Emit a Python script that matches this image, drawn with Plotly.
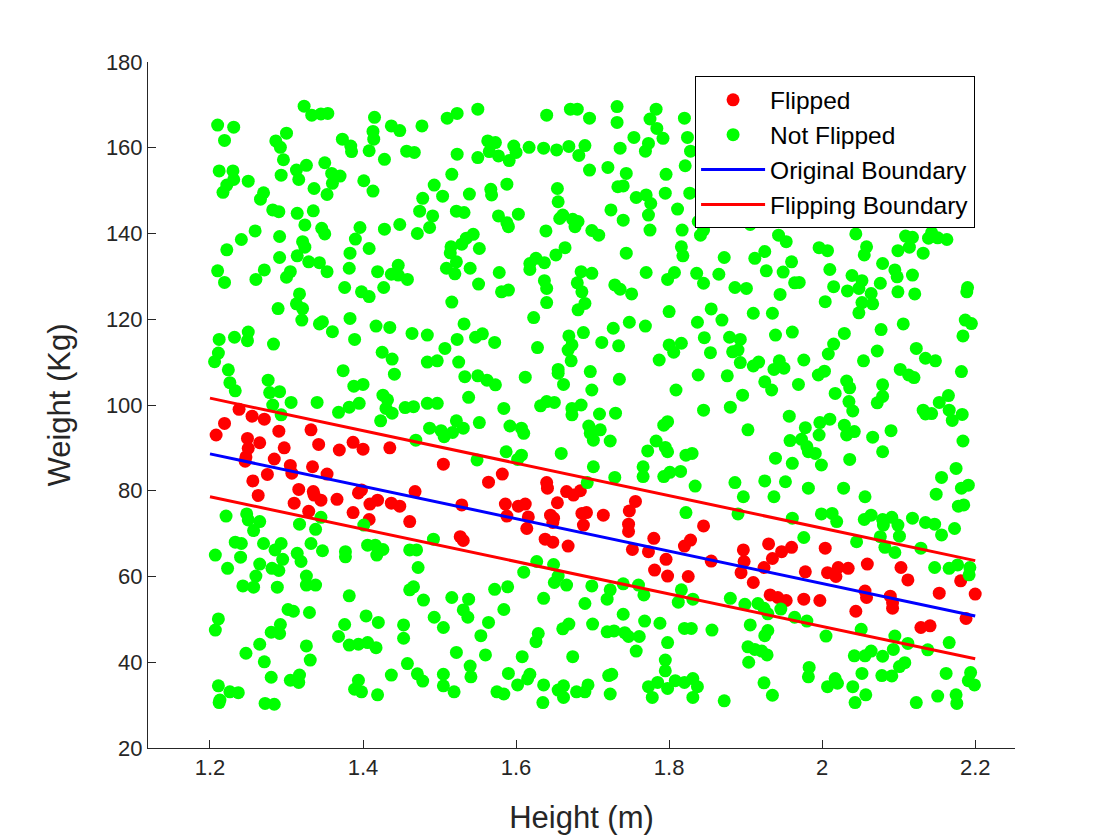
import plotly.graph_objects as go

# ---------------- data ----------------
flipped_height = [
    1.238, 1.255, 1.271, 1.219, 1.208, 1.249, 1.265, 1.250, 1.247, 1.246,
    1.290, 1.332, 1.342, 1.297, 1.284, 1.305, 1.307, 1.334, 1.353, 1.275,
    1.256, 1.263, 1.369, 1.387, 1.400, 1.435, 1.316, 1.335, 1.336, 1.345,
    1.366, 1.394, 1.398, 1.310, 1.409, 1.419, 1.437,
    1.329, 1.387, 1.408,
    1.505, 1.582, 1.564, 1.640, 1.641, 1.468, 1.666, 1.675, 1.684, 1.529,
    1.586, 1.603, 1.612, 1.654, 1.448,
    1.461, 1.527, 1.531, 1.588, 1.616, 1.614, 1.645, 1.649, 1.648, 1.638,
    1.648, 1.668, 1.686, 1.692, 1.688,
    1.756, 1.748, 1.714, 1.747, 1.747, 1.845, 1.780, 1.752, 1.773, 1.796,
    1.781, 1.798, 1.825, 1.820, 1.828, 1.855, 1.897, 1.898, 1.894, 1.910,
    1.930, 1.947, 1.960, 1.935, 1.924, 1.932, 1.942, 1.953,
    2.004, 1.978, 2.007, 2.018, 2.021, 2.034, 2.059, 2.103, 2.112, 1.976,
    1.997, 2.056, 2.058, 2.044, 2.089, 2.092, 2.092, 2.153, 2.181, 2.200,
    2.188, 2.129, 2.141,
]
flipped_weight = [
    99.0, 97.4, 96.7, 95.7, 93.0, 92.2, 91.2, 89.9, 87.9, 86.9,
    93.9, 94.2, 90.8, 90.0, 87.4, 85.9, 84.1, 85.6, 83.9, 83.8,
    82.3, 78.9, 89.5, 91.3, 89.7, 90.0, 80.3, 79.8, 79.0, 77.8,
    78.0, 79.5, 80.2, 77.1, 76.9, 77.8, 77.1,
    75.2, 74.9, 73.3,
    86.2, 83.9, 82.0, 81.9, 80.6, 79.8, 79.8, 79.0, 80.0, 76.7,
    76.9, 76.4, 76.9, 77.2, 76.4,
    72.8, 69.3, 68.4, 74.1, 73.9, 71.2, 74.3, 73.6, 72.6, 68.7,
    68.0, 67.1, 74.7, 74.9, 72.0,
    77.5, 75.3, 74.3, 72.2, 70.5, 71.8, 68.9, 66.3, 65.8, 64.0,
    61.5, 60.1, 60.0, 67.1, 68.5, 63.6, 66.2, 63.5, 60.9, 58.6,
    67.6, 65.8, 66.8, 64.2, 62.1, 55.7, 55.1, 54.4,
    66.6, 61.1, 60.9, 60.0, 62.1, 61.9, 62.9, 62.1, 59.2, 54.7,
    54.4, 56.6, 55.1, 51.9, 55.4, 53.9, 52.6, 56.1, 59.0, 55.9,
    50.2, 48.1, 48.5,
]

not_flipped_height = [
    # upper band
    1.210, 1.231, 1.219, 1.323, 1.333, 1.345, 1.354, 1.415, 1.437, 1.300,
    1.286, 1.292, 1.373, 1.384, 1.385, 1.413, 1.414, 1.408, 1.428, 1.296,
    1.212, 1.230, 1.231, 1.222, 1.217, 1.250, 1.293, 1.313, 1.326, 1.316,
    1.350, 1.359, 1.370, 1.360, 1.336, 1.353, 1.401, 1.413, 1.270, 1.266,
    1.282, 1.290, 1.314, 1.335, 1.324, 1.346, 1.350, 1.259, 1.241, 1.222,
    1.291, 1.321, 1.324, 1.314, 1.291, 1.329, 1.343, 1.353, 1.396, 1.390,
    1.428, 1.408, 1.383, 1.382, 1.419, 1.437, 1.210, 1.219, 1.271, 1.260,
    1.305, 1.300, 1.317, 1.376, 1.398, 1.408, 1.427,
    1.448, 1.477, 1.510, 1.523, 1.550, 1.640, 1.671, 1.680, 1.696, 1.457,
    1.467, 1.523, 1.550, 1.563, 1.573, 1.565, 1.577, 1.597, 1.600, 1.591,
    1.617, 1.636, 1.653, 1.669, 1.690, 1.682, 1.696, 1.516, 1.493, 1.478,
    1.504, 1.539, 1.567, 1.568, 1.588, 1.654, 1.655, 1.474, 1.491, 1.522,
    1.532, 1.448, 1.471, 1.487, 1.577, 1.588, 1.590, 1.603, 1.657, 1.661,
    1.674, 1.681, 1.677, 1.699, 1.639, 1.544, 1.535, 1.529, 1.515, 1.514,
    1.552, 1.522, 1.509, 1.520, 1.540, 1.446, 1.446, 1.458, 1.578, 1.551,
    1.581, 1.590, 1.664, 1.652, 1.626, 1.618, 1.637, 1.618, 1.637, 1.640,
    1.685, 1.699, 1.680, 1.686,
    1.732, 1.732, 1.783, 1.775, 1.784, 1.792, 1.754, 1.736, 1.773, 1.769,
    1.820, 1.824, 1.828, 1.821, 1.720, 1.744, 1.796, 1.733, 1.740, 1.757,
    1.770, 1.776, 1.795, 1.827, 1.724, 1.740, 1.773, 1.811, 1.775, 1.817,
    1.838, 1.845, 1.841, 1.873, 1.906, 1.939, 1.943, 1.953, 1.708, 1.744,
    1.816, 1.818, 1.872, 1.912, 1.925, 1.960, 1.770, 1.807, 1.798, 1.836,
    1.845, 1.865, 1.927, 1.949, 1.964, 1.729, 1.736, 1.751, 1.886, 1.901,
    1.945,
    2.044, 1.996, 2.007, 2.058, 2.055, 2.109, 2.118, 2.114, 2.099, 2.132,
    2.143, 2.139, 2.151, 2.163, 2.010, 2.079, 2.095, 2.098, 2.118, 1.970,
    2.039, 2.052, 2.048, 2.033, 2.015, 2.076, 2.064, 2.099, 2.121, 2.190,
    2.189,
    # middle band
    1.289, 1.313, 1.321, 1.320, 1.343, 1.347, 1.360, 1.383, 1.389, 1.417,
    1.435, 1.212, 1.232, 1.250, 1.249, 1.283, 1.211, 1.206, 1.224, 1.226,
    1.233, 1.276, 1.278, 1.291, 1.282, 1.293, 1.306, 1.340, 1.374, 1.388,
    1.400, 1.395, 1.382, 1.368, 1.425, 1.438, 1.441, 1.426, 1.432, 1.430,
    1.438, 1.423,
    1.516, 1.640, 1.681, 1.690, 1.623, 1.532, 1.464, 1.484, 1.507, 1.523,
    1.547, 1.556, 1.572, 1.628, 1.669, 1.688, 1.673, 1.668, 1.672, 1.484,
    1.497, 1.525, 1.533, 1.550, 1.562, 1.573, 1.612, 1.655, 1.655, 1.662,
    1.697, 1.699, 1.538, 1.584, 1.484, 1.497, 1.466, 1.455, 1.632, 1.640,
    1.650, 1.673, 1.685, 1.673, 1.487, 1.502, 1.506, 1.517, 1.522, 1.531,
    1.552, 1.592, 1.607, 1.610, 1.695, 1.697, 1.701, 1.469, 1.549, 1.587,
    1.607, 1.602, 1.659, 1.701, 1.693,
    1.800, 1.855, 1.869, 1.910, 1.935, 1.748, 1.769, 1.727, 1.837, 1.939,
    1.961, 1.712, 1.734, 1.800, 1.816, 1.806, 1.846, 1.854, 1.879, 1.893,
    1.883, 1.890, 1.787, 1.893, 1.910, 1.917, 1.937, 1.944, 1.950, 1.838,
    1.876, 1.925, 1.934, 1.735, 1.809, 1.896, 1.880, 1.845, 1.730, 1.709,
    1.957, 1.903, 1.793, 1.798, 1.710, 1.723, 1.783, 1.795, 1.798, 1.772,
    1.958, 1.822, 1.830, 1.939, 1.961, 1.766, 1.766, 1.729, 1.793, 1.801,
    1.815, 1.834, 1.886, 1.925, 1.952, 1.897, 1.937,
    2.004, 2.052, 2.066, 2.048, 2.106, 2.077, 2.029, 2.187, 2.195, 2.184,
    2.015, 2.008, 1.976, 2.054, 2.072, 2.123, 2.135, 2.148, 1.995, 2.003,
    2.102, 2.113, 2.120, 2.182, 1.969, 2.032, 2.036, 2.017, 2.079, 2.079,
    2.072, 2.035, 2.040, 2.132, 2.135, 2.143, 2.153, 2.165, 2.166, 2.170,
    2.183, 2.010, 1.997, 1.978, 1.996, 2.029, 2.032, 2.042, 2.066, 2.090,
    1.973, 1.980, 1.982, 1.991, 2.079, 2.184, 1.999, 2.036, 2.175, 2.156,
    1.982, 2.028, 2.056, 2.149, 2.182, 2.191, 2.178, 2.185,
    # lower band
    1.221, 1.248, 1.250, 1.265, 1.257, 1.317, 1.338, 1.345, 1.401, 1.233,
    1.241, 1.270, 1.293, 1.285, 1.295, 1.332, 1.347, 1.314, 1.319, 1.377,
    1.377, 1.406, 1.416, 1.426, 1.418, 1.207, 1.240, 1.223, 1.265, 1.281,
    1.290, 1.260, 1.326, 1.243, 1.257, 1.288, 1.326, 1.338, 1.382, 1.302,
    1.309, 1.330, 1.211, 1.207, 1.292, 1.280, 1.291, 1.376, 1.404, 1.420,
    1.368, 1.382, 1.394, 1.406, 1.417, 1.265, 1.247, 1.271, 1.326, 1.331,
    1.280, 1.305, 1.317, 1.316, 1.394, 1.389, 1.398, 1.419, 1.437, 1.211,
    1.226, 1.237, 1.213, 1.212, 1.272, 1.284,
    1.492, 1.461, 1.470, 1.472, 1.461, 1.466, 1.479, 1.516, 1.538, 1.531,
    1.537, 1.572, 1.589, 1.584, 1.610, 1.627, 1.649, 1.655, 1.650, 1.666,
    1.636, 1.699, 1.690, 1.700, 1.493, 1.505, 1.453, 1.453, 1.564, 1.554,
    1.629, 1.626, 1.661, 1.669, 1.522, 1.560, 1.608, 1.674, 1.458, 1.471,
    1.478, 1.505, 1.505, 1.519, 1.540, 1.541, 1.590, 1.602, 1.618, 1.615,
    1.636, 1.635, 1.575, 1.584, 1.655, 1.662, 1.662, 1.679, 1.694, 1.690,
    1.822, 1.890, 1.961, 1.723, 1.719, 1.740, 1.760, 1.767, 1.816, 1.812,
    1.831, 1.880, 1.899, 1.916, 1.924, 1.929, 1.946, 1.964, 1.740, 1.768,
    1.788, 1.719, 1.728, 1.742, 1.747, 1.761, 1.757, 1.798, 1.820, 1.829,
    1.856, 1.906, 1.929, 1.925, 1.903, 1.912, 1.921, 1.928, 1.904, 1.795,
    1.795, 1.721, 1.725, 1.723, 1.773, 1.785, 1.778, 1.798, 1.808, 1.820,
    1.831, 1.837, 1.831, 1.872, 1.924, 1.935,
    1.999, 2.013, 2.019, 2.055, 2.064, 2.079, 2.080, 2.091, 2.099, 2.118,
    2.135, 2.147, 2.173, 2.156, 2.101, 2.076, 2.082, 2.095, 2.045, 1.976,
    2.129, 2.147, 2.166, 2.177, 2.193, 2.192, 1.980, 2.005, 2.051, 2.095,
    2.112, 2.093, 2.138, 2.166, 2.064, 2.056, 2.042, 2.079, 2.108, 2.101,
    1.983, 1.982, 2.017, 2.020, 2.007, 2.052, 2.078, 2.091, 2.040, 2.057,
    2.043, 2.123, 2.151, 2.162, 2.194, 2.191, 2.199, 2.175, 2.176,
]
not_flipped_weight = [
    165.3, 164.8, 161.7, 169.7, 167.6, 167.9, 168.0, 167.1, 165.1, 163.4,
    161.6, 160.1, 162.0, 160.4, 159.1, 163.8, 162.0, 159.3, 157.3, 157.2,
    154.6, 154.6, 152.6, 151.3, 149.6, 152.2, 153.6, 154.8, 155.9, 152.6,
    156.5, 154.0, 153.4, 151.7, 150.5, 149.1, 152.3, 149.9, 149.5, 148.0,
    145.5, 145.1, 144.7, 145.3, 142.0, 141.2, 139.9, 140.6, 138.6, 136.2,
    139.3, 138.1, 136.8, 134.8, 134.4, 133.4, 133.2, 131.1, 141.4, 138.7,
    141.0, 136.5, 135.4, 131.9, 131.1, 130.5, 131.3, 128.6, 131.5, 129.3,
    131.1, 129.8, 125.9, 127.4, 126.4, 125.3, 127.4,
    164.0, 165.1, 166.9, 168.0, 169.0, 167.6, 169.0, 169.0, 166.9, 159.2,
    158.9, 158.5, 157.7, 161.6, 161.2, 159.1, 158.1, 160.4, 158.9, 157.0,
    160.1, 159.9, 159.5, 160.3, 160.5, 158.2, 154.8, 153.8, 151.3, 148.2,
    148.7, 149.2, 150.3, 149.0, 151.5, 150.5, 147.4, 145.2, 144.1, 145.2,
    144.9, 142.1, 140.0, 141.4, 144.1, 142.5, 141.6, 144.5, 143.5, 144.3,
    143.3, 142.8, 141.6, 140.7, 140.6, 139.8, 138.9, 137.5, 136.9, 135.5,
    136.5, 133.4, 131.9, 130.6, 131.9, 132.6, 130.3, 129.3, 130.9, 128.2,
    126.4, 126.8, 136.7, 135.0, 134.2, 133.0, 133.2, 131.6, 129.0, 127.2,
    131.1, 130.7, 128.5, 126.4,
    169.6, 165.9, 169.0, 166.7, 164.5, 162.2, 162.4, 159.9, 161.0, 159.2,
    166.9, 162.4, 159.2, 155.8, 155.4, 154.0, 153.8, 150.9, 151.1, 148.4,
    149.0, 147.0, 149.4, 149.4, 145.5, 143.1, 144.3, 145.7, 140.8, 140.8,
    142.8, 140.8, 139.6, 143.5, 142.1, 143.3, 139.6, 138.1, 139.6, 135.4,
    136.9, 134.8, 134.4, 134.2, 135.8, 133.4, 130.9, 130.9, 129.3, 130.7,
    128.4, 130.5, 131.3, 131.0, 128.5, 128.0, 127.0, 125.9, 127.4, 127.2,
    125.8,
    139.9, 136.7, 136.0, 136.9, 135.0, 139.4, 139.1, 136.8, 136.0, 135.4,
    140.2, 138.9, 139.0, 138.6, 131.6, 133.0, 131.5, 129.9, 130.3, 128.6,
    130.2, 129.0, 127.2, 126.6, 127.6, 128.4, 126.0, 126.4, 125.9, 127.4,
    126.4,
    122.5, 123.6, 122.5, 119.8, 118.9, 119.4, 117.1, 120.2, 115.3, 118.4,
    118.1, 115.3, 115.8, 117.0, 115.0, 114.2, 112.1, 110.1, 108.2, 105.2,
    103.3, 105.8, 102.9, 103.1, 100.0, 97.7, 100.6, 100.6, 108.0, 104.4,
    104.8, 100.4, 99.5, 98.3, 112.3, 110.7, 107.2, 102.3, 101.2, 99.2,
    98.1, 96.3,
    124.0, 123.9, 122.2, 123.7, 120.4, 118.9, 116.7, 116.3, 113.2, 115.3,
    115.8, 116.6, 114.6, 113.4, 116.1, 116.9, 114.0, 112.8, 110.3, 110.0,
    110.3, 110.0, 106.6, 106.8, 105.8, 104.7, 106.5, 108.3, 107.4, 104.8,
    107.8, 103.5, 101.8, 99.2, 100.4, 100.4, 99.6, 99.4, 99.8, 100.8,
    100.6, 99.2, 100.0, 97.7, 94.6, 94.0, 92.6, 93.6, 96.3, 94.6,
    95.9, 95.1, 94.6, 93.4, 95.1, 93.4, 91.8, 91.8, 87.2, 89.1,
    88.3, 87.3, 88.7, 85.6, 81.9,
    121.8, 122.4, 119.8, 121.4, 121.4, 119.3, 118.4, 117.9, 119.3, 116.3,
    117.0, 114.6, 113.8, 114.0, 114.4, 112.3, 115.7, 112.2, 115.8, 115.3,
    112.4, 112.8, 110.5, 109.9, 109.1, 110.0, 108.3, 110.3, 108.6, 107.0,
    106.8, 105.4, 103.5, 106.0, 103.5, 102.3, 99.5, 98.8, 98.1, 97.9,
    97.4, 94.2, 95.3, 96.1, 94.2, 91.6, 91.6, 90.1, 89.1, 89.3,
    91.7, 88.3, 88.7, 87.6, 86.4, 85.6, 83.3, 83.1, 83.3, 84.3,
    84.5, 81.1, 81.9, 82.3, 82.1, 78.6, 78.6,
    124.1, 123.9, 123.6, 121.5, 118.9, 117.6, 116.7, 119.8, 119.0, 116.1,
    114.2, 111.9, 110.5, 110.3, 112.6, 113.2, 110.9, 110.3, 107.0, 107.9,
    108.3, 107.0, 106.4, 107.8, 104.8, 105.6, 104.0, 102.7, 104.7, 102.0,
    100.5, 100.8, 98.6, 98.8, 97.9, 98.0, 100.6, 102.2, 98.8, 96.4,
    97.8, 96.7, 95.9, 94.7, 93.0, 95.3, 93.0, 93.8, 92.5, 94.0,
    92.0, 90.3, 89.1, 88.7, 89.1, 91.6, 86.0, 87.3, 85.2, 83.1,
    80.6, 80.6, 78.6, 79.2, 80.6, 81.3, 76.4, 76.7,
    74.1, 74.6, 73.2, 72.8, 70.7, 72.2, 71.0, 73.8, 72.0, 68.0,
    67.7, 67.7, 67.7, 66.2, 64.0, 67.7, 66.0, 65.4, 63.5, 65.8,
    64.6, 67.3, 67.3, 66.3, 65.0, 65.0, 64.5, 61.9, 62.9, 61.9,
    61.4, 60.1, 60.1, 57.8, 57.5, 57.5, 58.0, 58.0, 55.5, 52.3,
    51.9, 51.6, 50.1, 47.5, 48.8, 47.0, 46.7, 48.8, 50.8, 49.3,
    46.0, 44.0, 44.2, 44.6, 43.4, 44.2, 42.1, 40.1, 43.8, 40.5,
    36.5, 35.8, 37.0, 35.3, 35.8, 33.7, 33.1, 32.4, 37.0, 34.5,
    33.1, 32.9, 31.2, 30.6, 30.4, 30.2,
    68.7, 66.2, 66.2, 62.1, 56.9, 57.6, 54.5, 55.1, 54.7, 52.2,
    50.5, 57.0, 57.6, 52.3, 61.0, 63.5, 62.8, 60.1, 58.6, 58.0,
    54.9, 57.8, 53.7, 48.9, 50.5, 48.1, 48.7, 45.6, 49.3, 46.2,
    46.7, 44.8, 47.8, 48.9, 42.3, 41.7, 41.3, 41.3, 39.7, 37.3,
    35.6, 37.2, 34.5, 33.1, 39.1, 36.6, 37.4, 34.7, 37.2, 36.1,
    34.7, 30.6, 33.1, 32.6, 33.5, 34.5, 31.8, 33.1, 34.7, 33.1,
    74.9, 74.6, 73.6, 56.9, 54.7, 58.3, 58.0, 55.7, 56.9, 54.0,
    54.7, 54.9, 53.5, 53.7, 52.6, 51.3, 52.4, 50.5, 51.2, 49.6,
    49.1, 47.1, 47.3, 46.9, 46.0, 46.0, 42.6, 44.6, 47.9, 47.9,
    47.5, 48.7, 47.4, 46.2, 43.6, 43.0, 42.6, 41.7, 40.0, 40.5,
    38.0, 36.9, 37.2, 32.6, 34.3, 35.3, 31.8, 33.9, 35.7, 35.3,
    36.2, 34.3, 31.8, 31.0, 35.2, 32.3,
    74.6, 74.7, 72.8, 73.3, 74.3, 73.3, 72.0, 73.8, 72.0, 73.6,
    72.6, 72.2, 71.2, 69.7, 69.4, 69.3, 66.8, 65.6, 68.1, 69.1,
    66.6, 62.1, 61.9, 62.7, 62.1, 60.4, 49.6, 46.1, 47.7, 46.1,
    44.4, 43.0, 42.9, 44.6, 42.6, 41.5, 41.5, 41.4, 39.9, 39.0,
    38.8, 36.6, 36.2, 35.1, 34.3, 37.4, 36.9, 36.8, 34.3, 32.4,
    30.6, 30.6, 32.1, 37.4, 37.6, 35.7, 34.7, 32.4, 30.4,
]

boundary_height = [1.2, 2.2]
original_boundary = [88.6, 50.8]
flip_upper = [101.6, 63.7]
flip_lower = [78.6, 40.8]

x_ticks = [1.2, 1.4, 1.6, 1.8, 2.0, 2.2]
x_tick_text = ["1.2", "1.4", "1.6", "1.8", "2", "2.2"]
y_ticks = [20, 40, 60, 80, 100, 120, 140, 160, 180]

# ---------------- figure ----------------
FONT = "Liberation Sans, Helvetica, Arial, sans-serif"
AX = "#262626"

fig = go.Figure()
fig.add_trace(go.Scatter(
    x=flipped_height, y=flipped_weight, mode="markers", name="Flipped",
    marker=dict(color="#ff0000", size=13, line=dict(width=0)),
))
fig.add_trace(go.Scatter(
    x=not_flipped_height, y=not_flipped_weight, mode="markers", name="Not Flipped",
    marker=dict(color="#00ff00", size=13, line=dict(width=0)),
))
fig.add_trace(go.Scatter(
    x=boundary_height, y=original_boundary, mode="lines", name="Original Boundary",
    line=dict(color="#0000ff", width=3),
))
fig.add_trace(go.Scatter(
    x=boundary_height, y=flip_upper, mode="lines", name="Flipping Boundary",
    line=dict(color="#ff0000", width=3), legendgroup="flip",
))
fig.add_trace(go.Scatter(
    x=boundary_height, y=flip_lower, mode="lines", name="Flipping Boundary",
    line=dict(color="#ff0000", width=3), legendgroup="flip", showlegend=False,
))

fig.update_layout(
    width=1120, height=840,
    margin=dict(l=140, r=113, t=54, b=100),
    paper_bgcolor="white", plot_bgcolor="white",
    font=dict(family=FONT, color=AX),
    showlegend=True,
    legend=dict(
        x=0.631, y=0.979, xanchor="left", yanchor="top",
        bgcolor="white", bordercolor="black", borderwidth=1,
        font=dict(family=FONT, size=24.5, color="black"),
        tracegroupgap=0, itemwidth=64,
    ),
    xaxis=dict(
        range=[1.119, 2.252], tickvals=x_ticks, ticktext=x_tick_text,
        showgrid=False, zeroline=False, showline=True, linecolor=AX, linewidth=1,
        ticks="inside", ticklen=8, tickcolor=AX, tickwidth=1,
        tickfont=dict(family=FONT, size=22, color=AX),
        title=dict(text="Height (m)", font=dict(family=FONT, size=31, color=AX), standoff=26),
    ),
    yaxis=dict(
        range=[20, 180], tickvals=y_ticks,
        showgrid=False, zeroline=False, showline=True, linecolor=AX, linewidth=1,
        ticks="inside", ticklen=8, tickcolor=AX, tickwidth=1,
        tickfont=dict(family=FONT, size=22, color=AX),
        title=dict(text="Weight (Kg)", font=dict(family=FONT, size=31, color=AX), standoff=26),
    ),
)

fig.write_html("out.html")
